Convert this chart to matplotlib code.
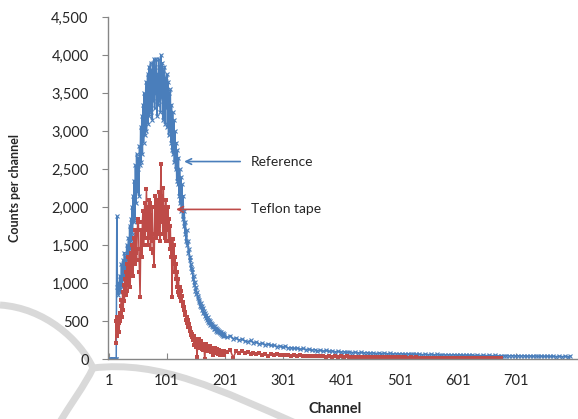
import numpy as np
import matplotlib
matplotlib.use("Agg")
import matplotlib.pyplot as plt
from matplotlib.ticker import FuncFormatter
from matplotlib.path import Path
from matplotlib.patches import PathPatch

# Reference spectrum: every channel up to 200, then every 5th channel
ref_ch_peak = list(range(1, 201))
ref_peak = [0, 0, 0, 0, 0, 0, 0, 0, 0, 0, 0, 0, 0, 0,
            1880, 950, 850, 1000, 900, 1100, 880, 1000, 1250, 950,
            1150, 1300, 1050, 1400, 1200, 1350, 1150, 1500, 1300, 1450,
            1600, 1300, 1750, 1450, 1850, 1550, 2000, 1650, 2150, 1800,
            2350, 1850, 2550, 2050, 2700, 2200, 2500, 2650, 2150, 2800,
            2550, 3050, 2600, 3200, 2700, 3350, 2850, 3500, 2950, 3300,
            3650, 3000, 3550, 3750, 3100, 3850, 3200, 3700, 3900, 3250,
            3800, 3150, 3900, 3400, 3950, 3300, 3850, 3500, 3950, 3200,
            3750, 3350, 3950, 3400, 3850, 3250, 4000, 3450, 3900, 3150,
            3800, 3350, 3850, 3100, 3700, 3300, 3750, 3050, 3650, 2950,
            3500, 3000, 3550, 2850, 3350, 2750, 3250, 2700, 3150, 2600,
            3000, 2500, 2850, 2350, 2750, 2300, 2650, 2150, 2500, 2050,
            2400, 1950, 2300, 1850, 2150, 1750, 1950, 1650, 1800, 1550,
            1700, 1500, 1550, 1400, 1450, 1300, 1350, 1200, 1250, 1150,
            1180, 1050, 1100, 980, 1020, 900, 950, 860, 880, 800,
            830, 750, 780, 700, 740, 680, 700, 640, 670, 600,
            630, 570, 600, 540, 580, 510, 550, 490, 520, 470,
            500, 450, 480, 430, 460, 420, 440, 400, 430, 390,
            410, 370, 400, 360, 385, 350, 370, 340, 360, 330,
            350, 320, 345, 310, 330, 300]
ref_ch_tail = list(range(205, 800, 5))
ref_tail = [285, 310, 270, 280, 250, 265, 240, 230, 245,
            215, 225, 200, 210, 190, 200, 180, 185, 165, 175,
            155, 168, 145, 150, 140, 147, 128, 140, 125, 131,
            115, 126, 110, 118, 104, 113, 100, 109, 95, 102,
            92, 99, 87, 95, 86, 90, 81, 88, 80, 86,
            76, 82, 73, 80, 72, 78, 70, 74, 67, 73,
            66, 72, 63, 69, 62, 68, 61, 64, 58, 64,
            58, 63, 55, 61, 55, 59, 53, 58, 52, 57,
            51, 56, 49, 54, 48, 53, 47, 52, 46, 50,
            45, 49, 43, 48, 43, 47, 42, 46, 40, 45,
            40, 44, 39, 43, 37, 42, 37, 41, 36, 40,
            35, 39, 34, 38, 33, 37, 32, 36, 31, 35]

# Teflon tape spectrum
tef_ch_peak = list(range(13, 201))
tef_peak = [210, 500, 300, 555, 400, 480, 350, 600, 500, 700,
            780, 550, 880, 650, 980, 760, 1050, 850, 1150, 900,
            1250, 980, 1350, 1050, 1300, 950, 1400, 1150, 1500, 1250,
            1100, 1450, 1600, 1250, 1700, 1400, 1300, 1650, 1800, 1840,
            1450, 1150, 820, 1450, 1700, 1350, 1800, 1950, 1500, 1850,
            2050, 1600, 1950, 2240, 1700, 2000, 1500, 2100, 1600, 2050,
            1450, 1900, 1550, 2000, 1650, 1400, 1220, 1650, 2150, 1600,
            2050, 1650, 2100, 1700, 2200, 1750, 1550, 2050, 2570, 1800,
            2150, 1650, 2250, 1750, 2000, 1600, 2100, 1550, 1950, 1700,
            2000, 1550, 1850, 1450, 1750, 1350, 1550, 820, 1575, 1250,
            1500, 1150, 1350, 1050, 1250, 950, 1150, 880, 1050, 850,
            950, 820, 900, 760, 830, 700, 750, 640, 690, 580,
            620, 520, 560, 470, 510, 420, 460, 370, 410, 320,
            360, 290, 330, 250, 300, 180, 270, 220, 250, 160,
            30, 230, 190, 260, 150, 220, 170, 240, 130, 200,
            160, 120, 190, 0, 170, 130, 200, 110, 160, 140,
            100, 150, 120, 170, 90, 140, 110, 60, 130, 100,
            150, 90, 120, 80, 130, 100, 70, 120, 90, 110,
            60, 100, 80, 110, 70, 90, 60, 100]
tef_ch_tail = list(range(205, 680, 5))
tef_tail = [95, 120, 20, 100, 85, 105, 80, 90, 70,
            85, 65, 78, 60, 72, 40, 66, 55, 62, 50,
            58, 48, 55, 44, 52, 42, 49, 40, 46, 38,
            44, 36, 42, 35, 40, 33, 38, 32, 37, 30,
            35, 29, 34, 28, 33, 27, 32, 26, 30, 25,
            29, 25, 28, 24, 27, 23, 26, 22, 25, 21,
            24, 21, 23, 20, 22, 19, 21, 18, 20, 18,
            19, 17, 18, 16, 18, 15, 17, 15, 16, 14,
            15, 14, 15, 13, 14, 13, 14, 12, 13, 12,
            12, 11, 12, 10, 11, 10]

BLUE = "#4a7ebb"
RED = "#be4b48"
GREY = "#868686"
TXT = "#262626"

plt.rcParams["font.family"] = ["Lato", "DejaVu Sans"]

W, H = 578, 419
fig = plt.figure(figsize=(W / 100, H / 100), dpi=100)

# faint watermark arcs behind the chart (pixel coords, y down)
def px(x, y):
    return (x / W, 1 - y / H)

codes = [Path.MOVETO, Path.CURVE4, Path.CURVE4, Path.CURVE4]
for pts in ([(0, 305), (45, 308), (80, 340), (93, 368)],
            [(93, 368), (160, 360), (220, 390), (300, 425)],
            [(93, 368), (85, 385), (70, 405), (58, 425)]):
    fig.patches.append(PathPatch(Path([px(*p) for p in pts], codes),
                                 transform=fig.transFigure, fill=False,
                                 edgecolor="#d9d9d9", lw=5, zorder=-5))

ax = fig.add_axes([0.187, 0.143, 0.811, 0.816])
ax.patch.set_alpha(0)

ax.plot(ref_ch_peak + ref_ch_tail, ref_peak + ref_tail, color=BLUE, lw=1.1,
        marker="x", ms=3.5, mew=0.8)
ax.plot(tef_ch_peak + tef_ch_tail, tef_peak + tef_tail, color=RED, lw=1.1,
        marker="s", ms=3.1, mew=0)

ax.set_xlim(0, 806)
ax.set_ylim(0, 4500)
ax.set_xticks(range(1, 702, 100))
ax.set_yticks(range(0, 4501, 500))
ax.yaxis.set_major_formatter(FuncFormatter(lambda v, p: f"{int(v):,}"))

for s in ["top", "right"]:
    ax.spines[s].set_visible(False)
for s in ["left", "bottom"]:
    ax.spines[s].set_color(GREY)
    ax.spines[s].set_linewidth(1.0)
ax.tick_params(axis="y", direction="out", length=4, color=GREY,
               labelsize=10.5, labelcolor=TXT, pad=10)
ax.tick_params(axis="x", direction="in", length=4, color=GREY,
               labelsize=10.5, labelcolor=TXT, pad=11)

ax.set_xlabel("Channel", fontsize=10.5, fontweight="bold", color=TXT)
ax.xaxis.set_label_coords(0.484, -0.125)
ax.set_ylabel("Counts per channel", fontsize=9, fontweight="bold", color=TXT)
ax.yaxis.set_label_coords(-0.185, 0.5)

ax.annotate("", xy=(126, 2600), xytext=(232, 2600),
            arrowprops=dict(arrowstyle="->", color=BLUE, lw=1.2))
ax.text(245, 2600, "Reference", fontsize=10, va="center", color=TXT)
ax.annotate("", xy=(112, 1970), xytext=(232, 1970),
            arrowprops=dict(arrowstyle="->", color=RED, lw=1.2))
ax.text(245, 1970, "Teflon tape", fontsize=10, va="center", color=TXT)

fig.savefig("out.png", dpi=100)
